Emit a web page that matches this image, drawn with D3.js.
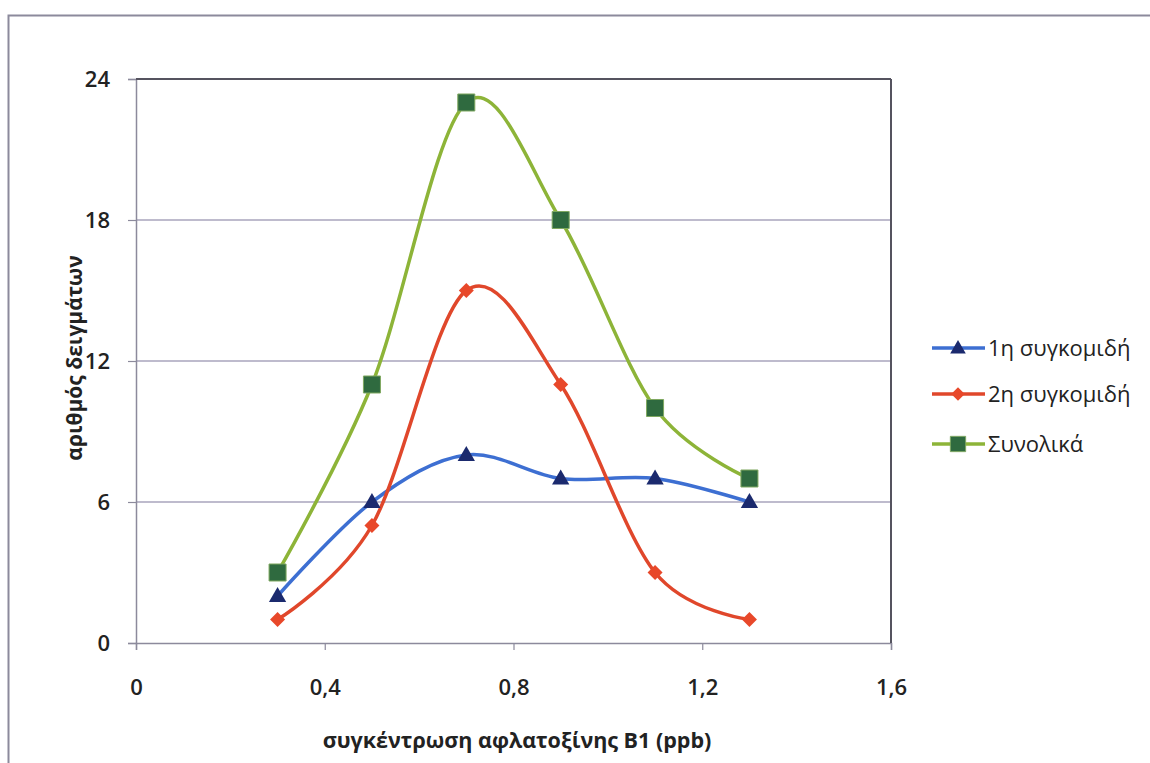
<!DOCTYPE html>
<html><head><meta charset="utf-8">
<script src="https://cdn.jsdelivr.net/npm/d3@7"></script>
<style>
body{margin:0;background:#fff;}
svg{display:block;font-family:"Open Sans","Noto Sans",sans-serif;}
</style></head>
<body><svg id="c" width="1150" height="763"></svg>
<script>
const xValues = [0.3, 0.5, 0.7, 0.9, 1.1, 1.3];
const harvest1 = [2, 6, 8, 7, 7, 6];
const harvest2 = [1, 5, 15, 11, 3, 1];
const total = [3, 11, 23, 18, 10, 7];
const seriesNames = ["1η συγκομιδή", "2η συγκομιδή", "Συνολικά"];
const xTicks = [0, 0.4, 0.8, 1.2, 1.6];
const yTicks = [0, 6, 12, 18, 24];
const xTitle = "συγκέντρωση αφλατοξίνης B1 (ppb)";
const yTitle = "αριθμός δειγμάτων";

const svg = d3.select("#c");
const L = 136, R = 891, T = 79, B = 643;
const x = d3.scaleLinear().domain([0, 1.6]).range([L, R]);
const y = d3.scaleLinear().domain([0, 24]).range([B, T]);

// outer frame
svg.append("rect").attr("x", 8.5).attr("y", 15.5).attr("width", 1200).attr("height", 800)
  .attr("fill", "none").attr("stroke", "#8c8a9c").attr("stroke-width", 2);

// gridlines
svg.append("g").selectAll("line").data(yTicks.filter(d => d > 0 && d < 24)).join("line")
  .attr("x1", L).attr("x2", R).attr("y1", d => y(d)).attr("y2", d => y(d))
  .attr("stroke", "#a8a4bc").attr("stroke-width", 1.5);

// axes
const yAxis = d3.axisLeft(y).tickValues(yTicks).tickSize(8).tickPadding(18).tickFormat(d3.format("d"));
const xAxis = d3.axisBottom(x).tickValues(xTicks).tickSize(7).tickPadding(29)
  .tickFormat(d => d === 0 ? "0" : d3.format(".1f")(d).replace(".", ","));
const gy = svg.append("g").attr("transform", `translate(${L},0)`).call(yAxis);
const gx = svg.append("g").attr("transform", `translate(0,${B})`).call(xAxis);
[gx, gy].forEach(g => {
  g.attr("font-size", 22);
  g.select(".domain").attr("stroke", "#8c8a9c").attr("stroke-width", 1.5);
  g.selectAll(".tick line").attr("stroke", "#8c8a9c").attr("stroke-width", 1.2);
  g.selectAll(".tick text").attr("fill", "#222").style("font-size", "22px").attr("font-weight", 600)
    .attr("font-family", "'Open Sans','Noto Sans',sans-serif");
});

// plot border top & right
svg.append("line").attr("x1", L).attr("x2", R).attr("y1", T).attr("y2", T).attr("stroke", "#55535f").attr("stroke-width", 2);
svg.append("line").attr("x1", R).attr("x2", R).attr("y1", T).attr("y2", B).attr("stroke", "#55535f").attr("stroke-width", 2);

// titles
svg.append("text").attr("x", 517).attr("y", 748).attr("text-anchor", "middle")
  .style("font-size", "21.5px").attr("font-weight", 700).attr("fill", "#222").text(xTitle);
svg.append("text").attr("transform", "translate(82,358) rotate(-90)").attr("text-anchor", "middle")
  .style("font-size", "21px").attr("font-weight", 700).attr("fill", "#222").text(yTitle);

const series = [
  {name: seriesNames[0], vals: harvest1, line: "#3d6fd2", mark: "tri", fill: "#1b2a6e"},
  {name: seriesNames[1], vals: harvest2, line: "#e0472b", mark: "dia", fill: "#e8482a"},
  {name: seriesNames[2], vals: total, line: "#8db438", mark: "sq", fill: "#2f6a3f"}
];
const diamond = "M0,-7.5L7.5,0L0,7.5L-7.5,0Z";
const sym = {
  tri: d3.symbol().type(d3.symbolTriangle).size(130)(),
  dia: diamond,
  sq: d3.symbol().type(d3.symbolSquare).size(290)()
};
const lineGen = d3.line().curve(d3.curveCatmullRom.alpha(0)).x(d => x(d[0])).y(d => y(d[1]));

series.forEach(s => {
  const pts = xValues.map((v, i) => [v, s.vals[i]]);
  svg.append("path").attr("d", lineGen(pts)).attr("fill", "none").attr("stroke", s.line).attr("stroke-width", 3.5);
});
series.forEach(s => {
  const pts = xValues.map((v, i) => [v, s.vals[i]]);
  svg.append("g").selectAll("path").data(pts).join("path")
    .attr("d", sym[s.mark]).attr("transform", d => `translate(${x(d[0])},${y(d[1]) + (s.mark === "tri" ? 1 : 0)})`)
    .attr("fill", s.fill).attr("stroke", s.mark === "sq" ? "#7fa860" : "none").attr("stroke-width", 1);
});

// legend
const ly = [348, 394, 444];
series.forEach((s, i) => {
  const g = svg.append("g").attr("transform", `translate(0,${ly[i]})`);
  g.append("line").attr("x1", 932).attr("x2", 985).attr("y1", 0).attr("y2", 0).attr("stroke", s.line).attr("stroke-width", 3.5);
  g.append("path").attr("d", sym[s.mark]).attr("transform", `translate(958,${s.mark === "tri" ? 1 : 0}) scale(0.9)`)
    .attr("fill", s.fill).attr("stroke", s.mark === "sq" ? "#7fa860" : "none");
  g.append("text").attr("x", 988).attr("y", 8).style("font-size", "22px").attr("fill", "#222").text(s.name);
});
</script></body></html>
